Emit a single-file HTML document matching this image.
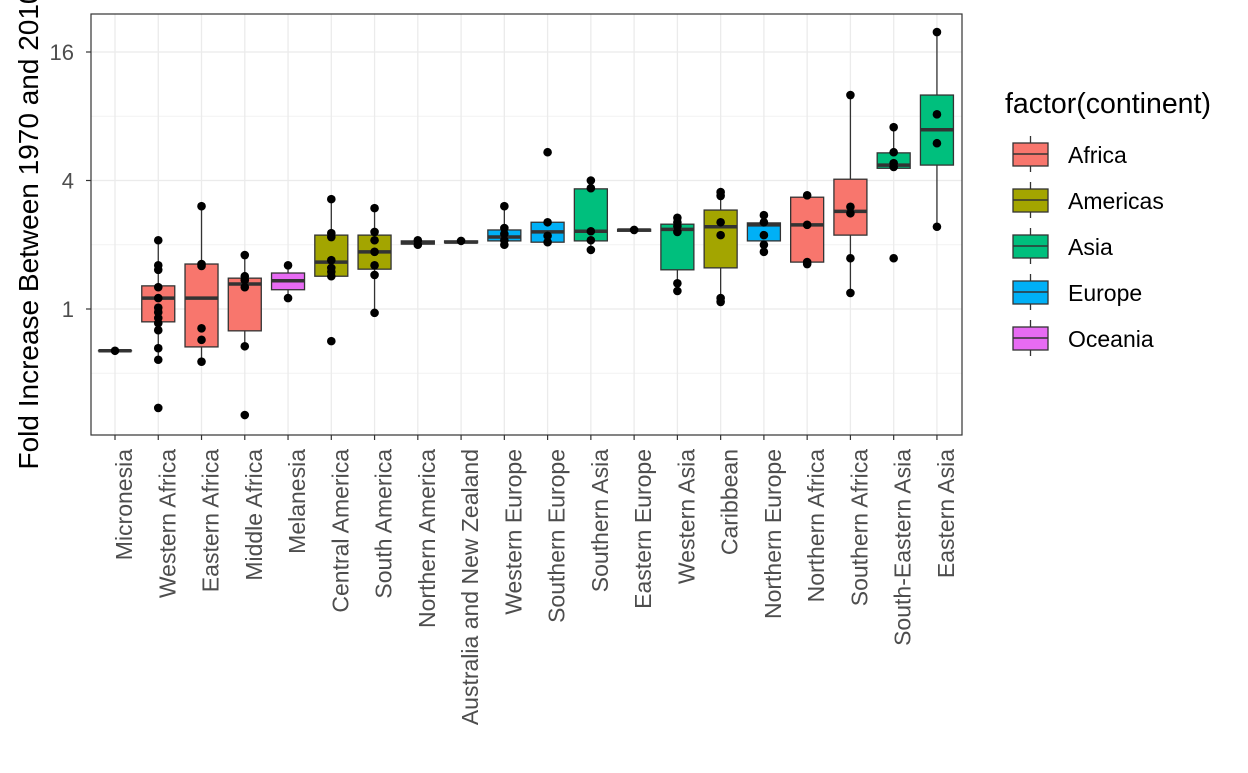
<!DOCTYPE html>
<html><head><meta charset="utf-8"><style>
body{margin:0;background:#fff;width:1248px;height:768px;overflow:hidden}
svg{font-family:"Liberation Sans",Arial,sans-serif}
</style></head><body>
<svg id="chart" width="1248" height="768">
<g id="grid"></g><g id="marks"></g><g id="axes"></g><g id="legend"></g>
<text transform="translate(38,229) rotate(-90)" text-anchor="middle" font-size="28" fill="#000">Fold Increase Between 1970 and 2010</text>
</svg>
<script>
// data in log2(fold increase)
const regions=["Micronesia","Western Africa","Eastern Africa","Middle Africa","Melanesia","Central America","South America","Northern America","Australia and New Zealand","Western Europe","Southern Europe","Southern Asia","Eastern Europe","Western Asia","Caribbean","Northern Europe","Northern Africa","Southern Africa","South-Eastern Asia","Eastern Asia"];
const continentOf=["Oceania","Africa","Africa","Africa","Oceania","Americas","Americas","Americas","Oceania","Europe","Europe","Asia","Europe","Asia","Americas","Europe","Africa","Africa","Asia","Asia"];
const q1=[-0.65,-0.20,-0.59,-0.34,0.30,0.51,0.62,1.01,1.03,1.06,1.04,1.06,1.21,0.61,0.64,1.06,0.73,1.15,2.19,2.24];
const med=[-0.65,0.17,0.17,0.39,0.44,0.73,0.89,1.03,1.04,1.12,1.20,1.21,1.23,1.24,1.28,1.31,1.31,1.52,2.24,2.79];
const q3=[-0.65,0.36,0.70,0.48,0.56,1.15,1.15,1.06,1.06,1.23,1.35,1.87,1.24,1.32,1.54,1.34,1.74,2.02,2.43,3.33];
const wlo=[-0.65,-0.79,-0.82,-0.58,0.17,0.45,-0.06,1.01,1.03,1.00,1.04,0.92,1.21,0.28,0.11,0.89,0.70,0.25,2.19,1.28];
const whi=[-0.65,1.07,1.60,0.84,0.68,1.71,1.57,1.06,1.06,1.60,1.35,2.01,1.24,1.42,1.82,1.46,1.77,3.33,2.83,4.31];
const points=[[-0.65],[1.07,0.68,0.61,0.34,0.17,0.02,-0.05,-0.14,-0.22,-0.33,-0.61,-0.79,-1.54],[1.60,0.70,0.67,-0.30,-0.48,-0.82],[0.84,0.51,0.45,0.34,-0.58,-1.65],[0.68,0.17],[1.71,1.18,1.12,0.76,0.64,0.58,0.51,-0.50],[1.57,1.20,1.07,0.89,0.68,0.53,-0.06],[1.07,1.00],[1.06],[1.60,1.26,1.17,1.07,1.00],[2.44,1.35,1.14,1.04],[2.00,1.88,1.21,1.07,0.92],[1.23],[1.42,1.35,1.29,1.20,0.40,0.28],[1.82,1.76,1.35,1.15,0.17,0.11],[1.46,1.35,1.15,1.00,0.89],[1.77,1.31,0.73,0.70],[3.33,1.59,1.49,0.79,0.25],[2.83,2.44,2.27,2.21,0.79],[4.31,3.03,2.58,1.28]];
const yTicks=[0,2,4];const yTickLabels=["1","4","16"];const yMinor=[-1,1,3];
const continents=["Africa","Americas","Asia","Europe","Oceania"];
const colors={Africa:"#F8766D",Americas:"#A3A500",Asia:"#00BF7D",Europe:"#00B0F6",Oceania:"#E76BF3"};

const L=91,R=962,T=14,B=435;
const y=v=>309-64.25*v;
const x=i=>115+i*43.26;
const NS="http://www.w3.org/2000/svg";
function mk(p,tag,attrs){const e=document.createElementNS(NS,tag);for(const k in attrs)e.setAttribute(k,attrs[k]);p.appendChild(e);return e;}
const G=document.getElementById("grid"),M=document.getElementById("marks"),A=document.getElementById("axes"),LG=document.getElementById("legend");
let r=mk(G,"rect",{x:L,y:T,width:R-L,height:B-T,fill:"#fff"});


yMinor.forEach(v=>{const l=mk(G,"line",{x1:L,x2:R,y1:y(v),y2:y(v),stroke:"#f2f2f2","stroke-width":1});

});
yTicks.forEach((v,i)=>{const l=mk(G,"line",{x1:L,x2:R,y1:y(v),y2:y(v),stroke:"#ebebeb","stroke-width":1.3});


mk(A,"line",{x1:L-5,x2:L,y1:y(v),y2:y(v),stroke:"#333","stroke-width":1.2});
const t=mk(A,"text",{x:L-17,y:y(v)+8,"text-anchor":"end","font-size":22,fill:"#4d4d4d"});t.textContent=yTickLabels[i];

});
regions.forEach((name,i)=>{const l=mk(G,"line",{x1:x(i),x2:x(i),y1:T,y2:B,stroke:"#ebebeb","stroke-width":1.3});


mk(A,"line",{x1:x(i),x2:x(i),y1:B,y2:B+5,stroke:"#333","stroke-width":1.2});
const t=mk(A,"text",{transform:`translate(${x(i)+17},449) rotate(-90)`,"text-anchor":"end","font-size":23,fill:"#4d4d4d"});t.textContent=name;


const g=mk(M,"g",{});


const hw=16.5;
mk(g,"line",{x1:x(i),x2:x(i),y1:y(whi[i]),y2:y(q3[i]),stroke:"#333","stroke-width":1.3});
mk(g,"line",{x1:x(i),x2:x(i),y1:y(q1[i]),y2:y(wlo[i]),stroke:"#333","stroke-width":1.3});
mk(g,"rect",{x:x(i)-hw,y:y(q3[i]),width:2*hw,height:Math.max(0.1,y(q1[i])-y(q3[i])),fill:colors[continentOf[i]],stroke:"#333","stroke-width":1.3});
mk(g,"line",{x1:x(i)-hw,x2:x(i)+hw,y1:y(med[i]),y2:y(med[i]),stroke:"#333","stroke-width":3.5});
points[i].forEach(v=>{const c=mk(g,"circle",{cx:x(i),cy:y(v),r:4.3,fill:"#000"});

});
});
mk(A,"rect",{x:L,y:T,width:R-L,height:B-T,fill:"none",stroke:"#333","stroke-width":1.2});
const lt=mk(LG,"text",{x:1005,y:113,"font-size":28.5,fill:"#000"});lt.textContent="factor(continent)";


continents.forEach((c,i)=>{const cy=154+i*46;const g=mk(LG,"g",{});


mk(g,"line",{x1:1030.5,x2:1030.5,y1:cy-18,y2:cy+18,stroke:"#333","stroke-width":1.3});
mk(g,"rect",{x:1013,y:cy-11,width:35,height:23,fill:colors[c],stroke:"#333","stroke-width":1.3});
mk(g,"line",{x1:1013,x2:1048,y1:cy,y2:cy,stroke:"#333","stroke-width":1.5});
const t=mk(g,"text",{x:1068,y:cy+9,"font-size":23,fill:"#000"});t.textContent=c;});
</script>
</body></html>
